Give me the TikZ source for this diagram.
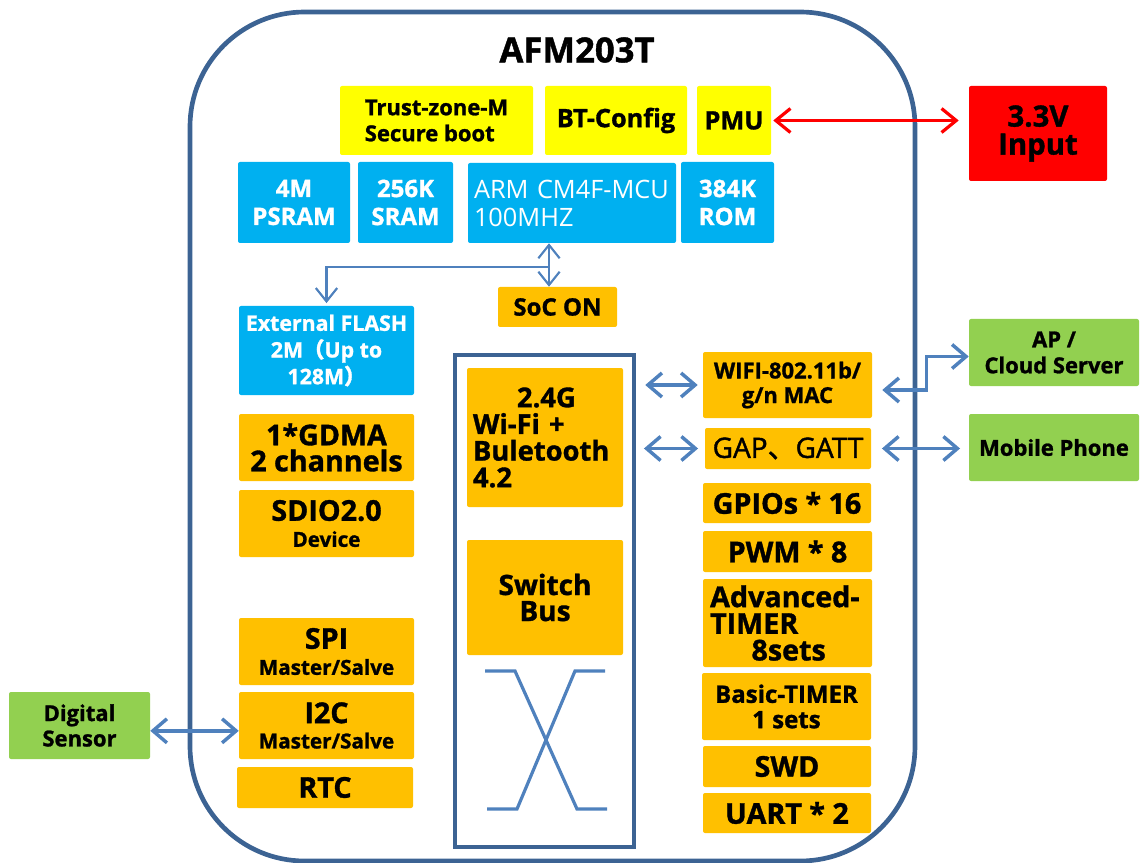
\documentclass[tikz,border=0pt]{standalone}
\usepackage{fontspec}
\setmainfont{Open Sans}[BoldFeatures={FakeBold=1.2}]
\newfontfamily\medfont{Open Sans}[FakeBold=1.5]
\newfontfamily\cjk{Noto Sans CJK SC}[FakeBold=1.5]
\usetikzlibrary{arrows.meta,calc}
\definecolor{cOr}{HTML}{FFC000}
\definecolor{cBl}{HTML}{00B0F0}
\definecolor{cYe}{HTML}{FFFF00}
\definecolor{cGr}{HTML}{92D050}
\definecolor{cRe}{HTML}{FF0000}
\definecolor{cOut}{HTML}{3C6393}
\definecolor{cArr}{HTML}{4F81BD}
\newcommand\myfont[2]{\fontsize{#1pt}{#2pt}\selectfont\bfseries}
\newcommand\chipbox[7]{\node[#6, minimum width={(#4-#2)*0.75pt}, minimum height={(#5-#3)*0.75pt}] (#1) at ({(#2+#4)/2},{(#3+#5)/2}) {#7};}
\tikzset{
  box/.style={rounded corners=1.5pt, inner sep=0pt, align=center},
  ob/.style={box, fill=cOr, text=black},
  bb/.style={box, fill=cBl, text=white},
  yb/.style={box, fill=cYe, text=black},
  gb/.style={box, fill=cGr, text=black},
  rb/.style={box, fill=cRe, text=black},
  frame/.style={draw=cOut, line width=3pt, inner sep=0pt},
  conn/.style={draw=cArr, line width=2.6pt, >={Straight Barb[length=10.5pt,width=18pt]}},
  thinconn/.style={draw=cArr, line width=1.6pt, >={Straight Barb[length=10pt,width=16pt]}},
  pwrconn/.style={draw=cRe, line width=2.4pt, >={Straight Barb[length=11pt,width=18pt]}},
  xline/.style={draw=cArr, line width=2.4pt},
}
\begin{document}
\begin{tikzpicture}[x=0.75pt,y=-0.75pt]
\useasboundingbox (0,0) rectangle (1140,863);
% chip outline
\chipbox{chip}{190}{12}{915}{861}{frame, line width=3.5pt, rounded corners=86pt}{}
\node[font=\myfont{26}{30}] (title) at (577,50) {AFM203T};
% top row
\chipbox{trust}{340}{86}{533}{155}{yb, align=left, font=\myfont{16.5}{19.5}}{Trust-zone-M\\Secure boot}
\chipbox{btc}{545}{86}{687}{155}{yb, font=\myfont{19}{22}}{BT-Config}
\chipbox{pmu}{697}{86}{771}{155}{yb, font=\myfont{19}{22}}{PMU}
\chipbox{pwr}{969}{86}{1107}{181}{rb, font=\myfont{22}{21}}{3.3V\\Input}
% memory row
\chipbox{psram}{238}{162}{350}{243}{bb, font=\myfont{18}{21}}{4M\\PSRAM}
\chipbox{sram}{358}{162}{453}{243}{bb, font=\myfont{18}{21}}{256K\\SRAM}
\chipbox{arm}{468}{163}{676}{243}{bb, align=left, text width=147pt, font=\fontsize{19pt}{21pt}\selectfont}{ARM CM4F-MCU\\100MHZ}
\chipbox{rom}{681}{162}{774}{243}{bb, font=\myfont{18}{21}}{384K\\ROM}
\chipbox{soc}{498}{287}{617}{327}{ob, font=\myfont{18}{21}}{SoC ON}
% left column
\chipbox{flash}{239}{306}{414}{395}{bb, font=\myfont{16}{20}}{External FLASH\\2M{\cjk （}Up to\\128M{\cjk ）}}
\chipbox{gdma}{239}{414}{414}{481}{ob, font=\myfont{21.5}{19.5}}{1*GDMA\\2 channels}
\chipbox{sdio}{239}{490}{414}{557}{ob, font=\myfont{15.5}{19.5}}{{\fontsize{21.5pt}{20pt}\selectfont SDIO2.0}\\Device}
\chipbox{spi}{239}{618}{414}{685}{ob, font=\myfont{15.5}{19.5}}{{\fontsize{21.5pt}{21pt}\selectfont SPI}\\Master/Salve}
\chipbox{i2c}{239}{692}{414}{759}{ob, font=\myfont{15.5}{19}}{{\fontsize{21.5pt}{21pt}\selectfont I2C}\\Master/Salve}
\chipbox{rtc}{237}{767}{413}{808}{ob, font=\myfont{21.5}{21}}{RTC}
\chipbox{sens}{9}{692}{150}{759}{gb, font=\myfont{16.5}{19}}{Digital\\Sensor}
% middle column
\chipbox{inner}{455}{355}{634}{847}{frame}{}
\chipbox{bt}{467}{368}{623}{507}{ob, align=left, text width=108pt, font=\myfont{20.5}{20}}{\hspace*{33pt}2.4G\\Wi-Fi +\\Buletooth\\4.2}
\chipbox{swb}{467}{540}{623}{655}{ob, font=\myfont{21}{19.5}}{Switch\\Bus}
\draw[xline] (485,671) -- (515,671) -- (577,809) -- (607,809);
\draw[xline] (605,671) -- (575,671) -- (517,809) -- (487,809);
% right column
\chipbox{wifi}{703}{352}{872}{418}{ob, font=\myfont{16.5}{18.5}}{WIFI-802.11b/\\g/n MAC}
\chipbox{gap}{705}{428}{871}{469}{ob, font=\fontsize{21pt}{21pt}\medfont}{GAP{\cjk 、}GATT}
\chipbox{gpio}{703}{483}{871}{523}{ob, font=\myfont{21.5}{21}}{GPIOs * 16}
\chipbox{pwm}{703}{531}{872}{572}{ob, font=\myfont{21.5}{21}}{PWM * 8}
\chipbox{adv}{703}{579}{872}{667}{ob, align=left, text width=116pt, font=\myfont{21.5}{20}}{Advanced-\\TIMER\\\hspace*{31pt}8sets}
\chipbox{basic}{702}{673}{871}{740}{ob, font=\myfont{18}{19}}{Basic-TIMER\\1 sets}
\chipbox{swd}{703}{746}{871}{787}{ob, font=\myfont{21.5}{21}}{SWD}
\chipbox{uart}{703}{793}{871}{833}{ob, font=\myfont{21.5}{21}}{UART * 2}
% external
\chipbox{ap}{969}{319}{1139}{386}{gb, font=\myfont{16.5}{19.5}}{AP /\\Cloud Server}
\chipbox{mob}{969}{414}{1139}{481}{gb, font=\myfont{16.5}{19.5}}{Mobile Phone}
% connectors
\coordinate (jn) at (549,267);
\draw[thinconn,<->] (jn |- arm.south) -- (jn |- soc.north);
\draw[thinconn,->,shorten >=2pt] (jn) -| (flash.north);
\draw[pwrconn,<->,shorten <=1.5pt,shorten >=7.5pt] (pmu.east) -- (pmu.east -| pwr.west);
\draw[conn,<->,shorten <=16.5pt,shorten >=3.75pt] (bt.east |- wifi.west) -- (wifi.west);
\draw[conn,<->,shorten <=15.5pt,shorten >=5pt] (bt.east |- gap.west) -- (gap.west);
\draw[conn,<->] ([shift={(10,5)}]wifi.east) -- ++(44,0) |- ([shift={(0,4)}]ap.west);
\draw[conn,<->,shorten <=8pt,shorten >=6.5pt] (gap.east) -- (gap.east -| mob.west);
\draw[conn,<->] ([yshift=-4pt]sens.east) -- ([yshift=-4pt]i2c.west);
\end{tikzpicture}
\end{document}
